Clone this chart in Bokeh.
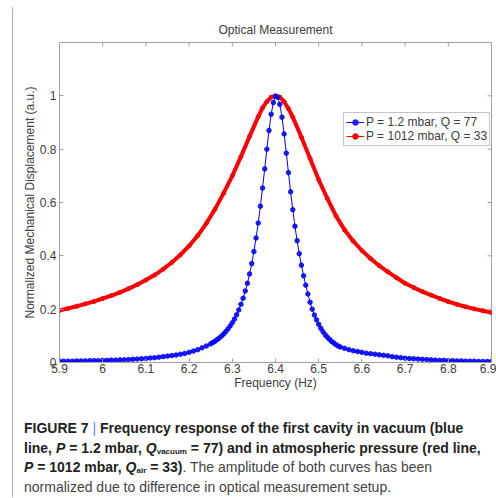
from bokeh.plotting import figure
from bokeh.models import FixedTicker, Range1d, Legend, LegendItem, Div
from bokeh.layouts import column, row
from bokeh.embed import file_html
from bokeh.resources import INLINE

# ---------------- data ----------------
blue_freq = [5.90, 5.91, 5.92, 5.93, 5.94, 5.95, 5.96, 5.97, 5.98, 5.99,
             6.00, 6.01, 6.02, 6.03, 6.04, 6.05, 6.06, 6.07, 6.08, 6.09,
             6.10, 6.11, 6.12, 6.13, 6.14, 6.15, 6.16, 6.17, 6.18, 6.19,
             6.20, 6.21, 6.22, 6.23, 6.24,
             6.250, 6.255, 6.260, 6.265, 6.270, 6.275, 6.280, 6.285, 6.290, 6.295,
             6.300, 6.305, 6.310, 6.315, 6.320, 6.325, 6.330, 6.335, 6.340, 6.345,
             6.350, 6.355, 6.360, 6.365, 6.370, 6.375, 6.380, 6.385, 6.390, 6.395,
             6.400, 6.405, 6.410, 6.415, 6.420, 6.425, 6.430, 6.435, 6.440, 6.445,
             6.450, 6.455, 6.460, 6.465, 6.470, 6.475, 6.480, 6.485, 6.490, 6.495,
             6.500, 6.505, 6.510, 6.515, 6.520, 6.525, 6.530, 6.535, 6.540, 6.545,
             6.550,
             6.56, 6.57, 6.58, 6.59, 6.60, 6.61, 6.62, 6.63, 6.64, 6.65,
             6.66, 6.67, 6.68, 6.69, 6.70, 6.71, 6.72, 6.73, 6.74, 6.75,
             6.76, 6.77, 6.78, 6.79, 6.80, 6.81, 6.82, 6.83, 6.84, 6.85,
             6.86, 6.87, 6.88, 6.89, 6.90]
blue_amp = [0.005, 0.005, 0.005, 0.005, 0.006, 0.006, 0.006, 0.007, 0.007, 0.007,
            0.008, 0.008, 0.009, 0.009, 0.010, 0.010, 0.011, 0.012, 0.013, 0.014,
            0.015, 0.017, 0.018, 0.020, 0.022, 0.024, 0.026, 0.028, 0.031, 0.034,
            0.038, 0.043, 0.048, 0.055, 0.062,
            0.070, 0.075, 0.080, 0.086, 0.092, 0.099, 0.107, 0.116, 0.126, 0.137,
            0.149, 0.163, 0.179, 0.197, 0.218, 0.241, 0.268, 0.297, 0.332, 0.371,
            0.416, 0.467, 0.523, 0.586, 0.654, 0.726, 0.800, 0.870, 0.931, 0.975,
            0.998, 0.995, 0.968, 0.920, 0.857, 0.785, 0.712, 0.640, 0.573, 0.511,
            0.457, 0.408, 0.365, 0.325, 0.290, 0.257, 0.226, 0.200, 0.178, 0.160,
            0.143, 0.128, 0.115, 0.104, 0.095, 0.087, 0.079, 0.073, 0.067, 0.062,
            0.058,
            0.053, 0.048, 0.044, 0.041, 0.038, 0.035, 0.033, 0.031, 0.029, 0.027,
            0.025, 0.022, 0.020, 0.018, 0.016, 0.015, 0.014, 0.013, 0.012, 0.011,
            0.010, 0.009, 0.008, 0.008, 0.007, 0.007, 0.006, 0.006, 0.005, 0.005,
            0.005, 0.004, 0.004, 0.004, 0.004]

red_freq = [5.90, 5.92, 5.94, 5.96, 5.98, 6.00, 6.02, 6.04, 6.06, 6.08,
            6.10, 6.12, 6.14, 6.16, 6.18, 6.20, 6.22, 6.24, 6.26, 6.28,
            6.30, 6.32, 6.34, 6.36, 6.37, 6.38, 6.39, 6.40, 6.41, 6.42, 6.43, 6.44,
            6.46, 6.48, 6.50, 6.52, 6.54, 6.56, 6.58, 6.60, 6.62, 6.64, 6.66, 6.68,
            6.70, 6.72, 6.74, 6.76, 6.78, 6.80, 6.82, 6.84, 6.86, 6.88, 6.90]
red_amp = [0.195, 0.203, 0.211, 0.220, 0.229, 0.240, 0.251, 0.263, 0.277, 0.292,
           0.309, 0.328, 0.350, 0.375, 0.404, 0.437, 0.476, 0.522, 0.575, 0.635,
           0.700, 0.772, 0.848, 0.922, 0.955, 0.978, 0.995, 1.000, 0.995, 0.978, 0.952, 0.920,
           0.845, 0.765, 0.685, 0.615, 0.550, 0.497, 0.455, 0.420, 0.390, 0.363, 0.340, 0.318,
           0.297, 0.281, 0.266, 0.253, 0.240, 0.228, 0.218, 0.209, 0.201, 0.194, 0.187]

series_labels = ["P = 1.2 mbar, Q = 77", "P = 1012 mbar, Q = 33"]
x_ticks = [5.9, 6.0, 6.1, 6.2, 6.3, 6.4, 6.5, 6.6, 6.7, 6.8, 6.9]
x_tick_labels = ["5.9", "6", "6.1", "6.2", "6.3", "6.4", "6.5", "6.6", "6.7", "6.8", "6.9"]
y_ticks = [0.0, 0.2, 0.4, 0.6, 0.8, 1.0]
y_tick_labels = ["0", "0.2", "0.4", "0.6", "0.8", "1"]

FONT = "Liberation Sans"
AX = "#a0a0a0"
TXT = "#3c3c3c"
FRAME_LINE = "#b4b4b4"
X0, X1, Y0, Y1 = 5.9, 6.9, 0.0, 1.2
W, H = 483, 395

p = figure(width=W, height=H,
           x_range=Range1d(X0, X1), y_range=Range1d(Y0, Y1),
           output_backend="svg", toolbar_location=None,
           min_border_left=46, min_border_top=35, min_border_bottom=40,
           min_border_right=5, title="Optical Measurement", margin=0)
p.grid.visible = False
p.outline_line_color = AX
p.title.align = "center"
p.title.text_font = FONT
p.title.text_font_size = "12px"
p.title.text_font_style = "normal"
p.title.text_color = TXT
p.title.standoff = 12

for ax in (p.xaxis[0], p.yaxis[0]):
    ax.axis_line_color = AX
    ax.major_tick_line_color = AX
    ax.major_tick_in = 4
    ax.major_tick_out = 0
    ax.minor_tick_line_color = None
    ax.major_label_text_font = FONT
    ax.major_label_text_color = TXT
    ax.major_label_text_font_size = "12px"
    ax.major_label_standoff = 3
    ax.axis_label_text_font = FONT
    ax.axis_label_text_color = TXT
    ax.axis_label_text_font_style = "normal"
    ax.axis_label_text_font_size = "12px"

p.xaxis.ticker = FixedTicker(ticks=x_ticks)
p.xaxis.major_label_overrides = dict(zip(x_ticks, x_tick_labels))
p.xaxis.axis_label = "Frequency (Hz)"
p.xaxis.axis_label_standoff = 0
p.xaxis.major_label_standoff = 1

p.yaxis.ticker = FixedTicker(ticks=y_ticks)
p.yaxis.major_label_overrides = dict(zip(y_ticks, y_tick_labels))
p.yaxis.axis_label = "Normalized Mechanical Displacement (a.u.)"
p.yaxis.axis_label_standoff = 0

# mirrored inward ticks on the top and right edges of the box
tick_dy = 4 / 320 * (Y1 - Y0)
tick_dx = 4 / 432 * (X1 - X0)
p.segment(x0=x_ticks, y0=[Y1] * len(x_ticks), x1=x_ticks, y1=[Y1 - tick_dy] * len(x_ticks),
          line_color=AX, line_width=1)
p.segment(x0=[X1] * len(y_ticks), y0=y_ticks, x1=[X1 - tick_dx] * len(y_ticks), y1=y_ticks,
          line_color=AX, line_width=1)

# red curve (dense markers look like a thick line)
p.line(red_freq, red_amp, line_color="#ff0000", line_width=4)
r_line = p.line(red_freq, red_amp, line_color="#ff0000", line_width=1)
r_dot = p.scatter(red_freq, red_amp, size=4, color="#ff0000")

# blue curve
b_line = p.line(blue_freq, blue_amp, line_color="#0000ff", line_width=1)
b_dot = p.scatter(blue_freq, blue_amp, size=4.5, color="#0000ff", alpha=0.85)

legend = Legend(items=[LegendItem(label=series_labels[0], renderers=[b_line, b_dot]),
                       LegendItem(label=series_labels[1], renderers=[r_line, r_dot])],
                location=(284, 216))
legend.label_text_font = FONT
legend.label_text_font_size = "12px"
legend.label_text_color = TXT
legend.label_height = 14
legend.glyph_height = 14
legend.glyph_width = 18
legend.label_standoff = 2
legend.spacing = 0
legend.padding = 2
legend.margin = 0
legend.border_line_color = "#8a8a8a"
legend.border_line_width = 1
legend.background_fill_alpha = 1
p.add_layout(legend)

SUB = '<sub style="font-size:8px;line-height:0;vertical-align:-1px">'
LINE = '<div style="height:19.5px;line-height:19.5px;white-space:nowrap;">'
caption_html = (
    '<div style="padding:17px 0 0 11px;font-family:\'Liberation Sans\',Arial,sans-serif;'
    'font-size:14px;color:#444;">'
    + LINE + '<b style="color:#222">FIGURE 7 <span style="color:#5b8fc9;font-weight:normal">|</span> '
    'Frequency response of the first cavity in vacuum (blue</b></div>'
    + LINE + '<b style="color:#222">line, <i>P</i> = 1.2 mbar, <i>Q</i>' + SUB + 'vacuum</sub> = 77) '
    'and in atmospheric pressure (red line,</b></div>'
    + LINE + '<b style="color:#222"><i>P</i> = 1012 mbar, <i>Q</i>' + SUB + 'air</sub> = 33)</b>. '
    'The amplitude of both curves has been</div>'
    + LINE + 'normalized due to difference in optical measurement setup.</div>'
    '</div>'
)
cap = Div(text=caption_html, width=W, height=95, margin=0)

top_line = Div(text=('<svg width="496" height="7" style="display:block">'
                     '<rect x="12" y="6" width="484" height="1" fill="' + FRAME_LINE + '"/></svg>'),
               width=496, height=7, margin=0)
left_line = Div(text=('<svg width="13" height="490" style="display:block">'
                      '<rect x="12" y="0" width="1" height="490" fill="' + FRAME_LINE + '"/></svg>'),
                width=13, height=490, margin=0)

layout = column(top_line, row(left_line, column(p, cap, spacing=0, margin=0), spacing=0, margin=0),
                spacing=0, margin=0)

open("out.html", "w").write(file_html(layout, INLINE))
